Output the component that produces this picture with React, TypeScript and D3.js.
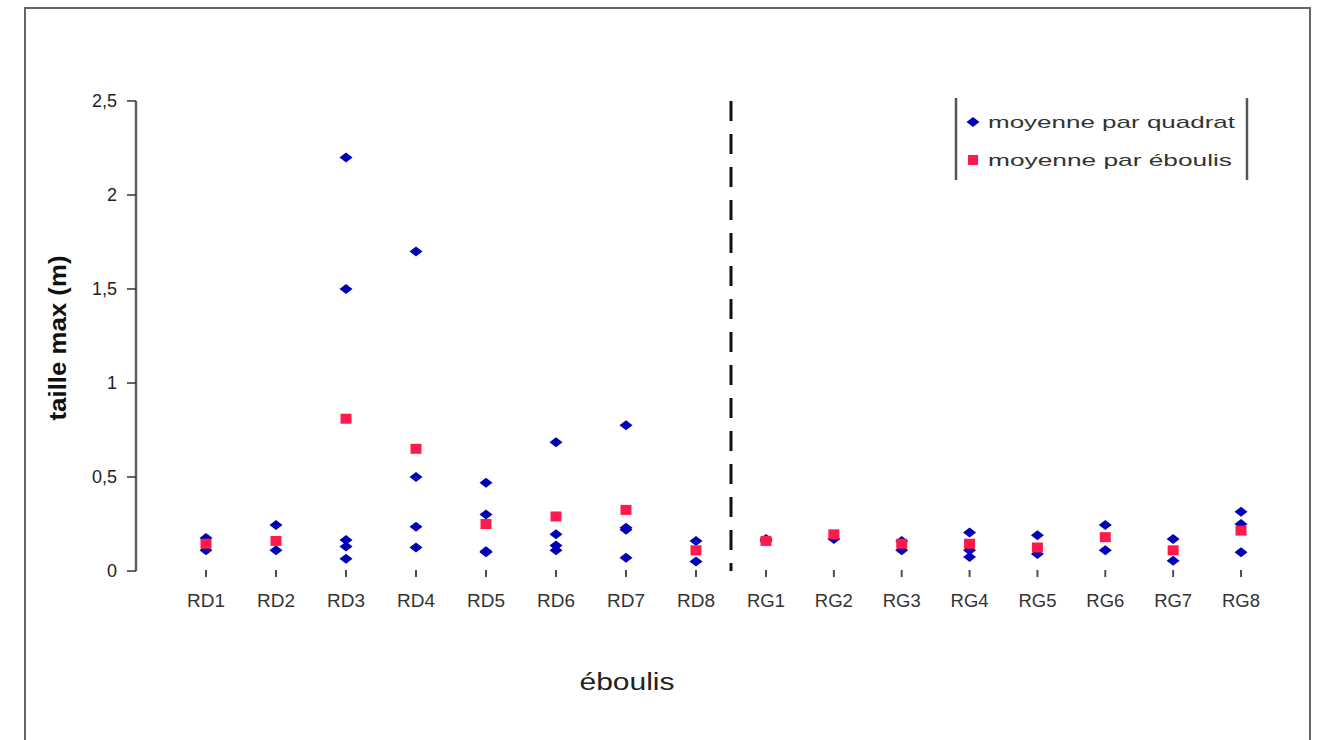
import React from "react";
import * as d3 from "d3";

const categories = ["RD1","RD2","RD3","RD4","RD5","RD6","RD7","RD8","RG1","RG2","RG3","RG4","RG5","RG6","RG7","RG8"];
const quadratValues: number[][] = [
  [0.175, 0.11],
  [0.245, 0.11],
  [2.2, 1.5, 0.165, 0.13, 0.065],
  [1.7, 0.5, 0.235, 0.125],
  [0.47, 0.3, 0.105, 0.1],
  [0.685, 0.195, 0.135, 0.11],
  [0.775, 0.23, 0.22, 0.07],
  [0.16, 0.05],
  [0.17, 0.16],
  [0.17],
  [0.16, 0.11],
  [0.205, 0.11, 0.075],
  [0.19, 0.09],
  [0.245, 0.11],
  [0.17, 0.055],
  [0.315, 0.25, 0.1],
];
const eboulisValues = [0.145, 0.16, 0.81, 0.65, 0.25, 0.29, 0.325, 0.11, 0.16, 0.195, 0.145, 0.145, 0.125, 0.18, 0.11, 0.215];
const yTicks = [0, 0.5, 1, 1.5, 2, 2.5];
const separatorPos = 8.5;
const legendLabels = ["moyenne par quadrat", "moyenne par éboulis"];

const BLUE = "#0000B4";
const RED = "#FF1A4B";
const FONT = "'Liberation Sans', Arial, sans-serif";

export default function App() {
  // RD group and RG group laid out on a polylinear scale
  const x = d3.scaleLinear().domain([1, 8, 9, 16]).range([206, 696, 766, 1241]);
  const y = d3.scaleLinear().domain([0, 2.5]).range([571, 101]);
  const diamond = (cx: number, cy: number) =>
    `M${cx},${cy - 5}L${cx + 6.5},${cy}L${cx},${cy + 5}L${cx - 6.5},${cy}Z`;

  return (
    <svg width={1326} height={740} style={{ position: "absolute", left: 0, top: 0, background: "#fff" }}>
      <rect x={25} y={8} width={1285} height={760} fill="#fff" stroke="#666" strokeWidth={2} />

      {/* y axis */}
      <line x1={136} x2={136} y1={y(2.5)} y2={y(0)} stroke="#5a5f63" strokeWidth={2.5} />
      {yTicks.map((t) => (
        <g key={t}>
          <line x1={127} x2={136} y1={y(t)} y2={y(t)} stroke="#333" strokeWidth={1.5} />
          <text x={117} y={y(t) + 6} textAnchor="end" fontFamily={FONT} fontSize={18} fill="#222">
            {String(t).replace(".", ",")}
          </text>
        </g>
      ))}
      <text
        transform={`translate(66,338) rotate(-90)`}
        textAnchor="middle"
        fontFamily={FONT}
        fontSize={24}
        fontWeight="bold"
        fill="#111"
        textLength={165}
        lengthAdjust="spacingAndGlyphs"
      >
        taille max (m)
      </text>

      {/* x ticks and labels */}
      {categories.map((c, i) => (
        <g key={c}>
          <line x1={x(i + 1)} x2={x(i + 1)} y1={570} y2={577} stroke="#4a5055" strokeWidth={2} />
          <text x={x(i + 1)} y={607} textAnchor="middle" fontFamily={FONT} fontSize={18} fill="#333"
            textLength={38} lengthAdjust="spacingAndGlyphs">
            {c}
          </text>
        </g>
      ))}
      <text x={627} y={690} textAnchor="middle" fontFamily={FONT} fontSize={23} fill="#222"
        textLength={95} lengthAdjust="spacingAndGlyphs">
        éboulis
      </text>

      {/* separator */}
      <line
        x1={x(separatorPos)}
        x2={x(separatorPos)}
        y1={y(2.5)}
        y2={y(0)}
        stroke="#111"
        strokeWidth={3}
        strokeDasharray="20,13"
      />

      {/* quadrat points */}
      {quadratValues.map((vals, i) =>
        vals.map((v, j) => <path key={`${i}-${j}`} d={diamond(x(i + 1), y(v))} fill={BLUE} />)
      )}
      {/* eboulis points */}
      {eboulisValues.map((v, i) => (
        <rect key={i} x={x(i + 1) - 5.5} y={y(v) - 5} width={11} height={10} fill={RED} />
      ))}

      {/* legend */}
      <line x1={956} x2={956} y1={98} y2={180} stroke="#555" strokeWidth={2.5} />
      <line x1={1247} x2={1247} y1={98} y2={180} stroke="#555" strokeWidth={2.5} />
      <path d={diamond(973, 122)} fill={BLUE} />
      <text x={988} y={128} fontFamily={FONT} fontSize={17} fill="#333" textLength={247} lengthAdjust="spacingAndGlyphs">
        {legendLabels[0]}
      </text>
      <rect x={968} y={155} width={10} height={10} fill={RED} />
      <text x={988} y={166} fontFamily={FONT} fontSize={17} fill="#333" textLength={244} lengthAdjust="spacingAndGlyphs">
        {legendLabels[1]}
      </text>
    </svg>
  );
}
